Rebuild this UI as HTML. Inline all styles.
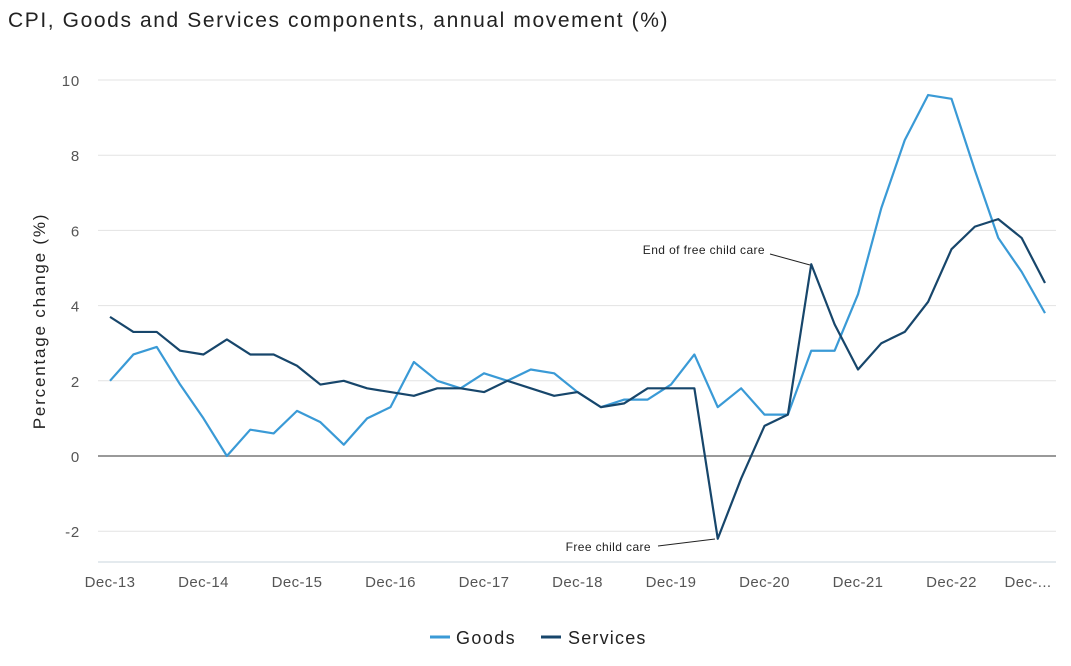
<!DOCTYPE html>
<html><head><meta charset="utf-8"><style>
body{margin:0;background:#fff;font-family:"Liberation Sans",sans-serif;}
svg text{font-family:"Liberation Sans",sans-serif;}
</style></head><body>
<svg width="1071" height="661">
<text x="8" y="27" font-size="21" letter-spacing="1.6" fill="#222">CPI, Goods and Services components, annual movement (%)</text>
<g id="grid"></g><g id="xt"></g><g id="lines"></g>
<text transform="translate(45,321) rotate(-90)" text-anchor="middle" font-size="17" letter-spacing="1.8" fill="#222">Percentage change (%)</text>
<text x="765" y="254" text-anchor="end" font-size="12" letter-spacing="0.4" fill="#222">End of free child care</text>
<line x1="770" y1="254" x2="810" y2="265" stroke="#222" stroke-width="1"/>
<text x="651" y="551" text-anchor="end" font-size="12" letter-spacing="0.4" fill="#222">Free child care</text>
<line x1="658" y1="546" x2="715" y2="539" stroke="#222" stroke-width="1"/>
<g>
<line x1="430" y1="637" x2="450" y2="637" stroke="#3a9ad6" stroke-width="3"/>
<text x="456" y="644" font-size="18" letter-spacing="1.4" fill="#222">Goods</text>
<line x1="541" y1="637" x2="561" y2="637" stroke="#17466b" stroke-width="3"/>
<text x="568" y="644" font-size="18" letter-spacing="1.2" fill="#222">Services</text>
</g>
</svg>
<script>
const categories=["Dec-13","Mar-14","Jun-14","Sep-14","Dec-14","Mar-15","Jun-15","Sep-15","Dec-15","Mar-16","Jun-16","Sep-16","Dec-16","Mar-17","Jun-17","Sep-17","Dec-17","Mar-18","Jun-18","Sep-18","Dec-18","Mar-19","Jun-19","Sep-19","Dec-19","Mar-20","Jun-20","Sep-20","Dec-20","Mar-21","Jun-21","Sep-21","Dec-21","Mar-22","Jun-22","Sep-22","Dec-22","Mar-23","Jun-23","Sep-23","Dec-23"];
const goods=[2.0,2.7,2.9,1.9,1.0,0.0,0.7,0.6,1.2,0.9,0.3,1.0,1.3,2.5,2.0,1.8,2.2,2.0,2.3,2.2,1.7,1.3,1.5,1.5,1.9,2.7,1.3,1.8,1.1,1.1,2.8,2.8,4.3,6.6,8.4,9.6,9.5,7.6,5.8,4.9,3.8];
const services=[3.7,3.3,3.3,2.8,2.7,3.1,2.7,2.7,2.4,1.9,2.0,1.8,1.7,1.6,1.8,1.8,1.7,2.0,1.8,1.6,1.7,1.3,1.4,1.8,1.8,1.8,-2.2,-0.6,0.8,1.1,5.1,3.5,2.3,3.0,3.3,4.1,5.5,6.1,6.3,5.8,4.6];
const yTicks=[-2,0,2,4,6,8,10];
const xLabels=["Dec-13","Dec-14","Dec-15","Dec-16","Dec-17","Dec-18","Dec-19","Dec-20","Dec-21","Dec-22","Dec-..."];
const NS="http://www.w3.org/2000/svg";
const x=i=>110+i*(1045-110)/(categories.length-1);
const y=v=>456-v*37.6;
function mk(t,a,p){const e=document.createElementNS(NS,t);for(const k in a)e.setAttribute(k,a[k]);p.appendChild(e);return e;}
const grid=document.getElementById('grid');
yTicks.forEach(t=>{
 const l=mk('line',{x1:98,x2:1056,y1:y(t),y2:y(t),stroke:t===0?'#999':'#e3e3e3','stroke-width':t===0?2:1},grid);
 
 
 const tx=mk('text',{x:80,y:y(t)+6,'text-anchor':'end','font-size':15,'letter-spacing':0.8,fill:'#555'},grid);tx.textContent=t;
 
 
});
const ax=mk('line',{x1:98,x2:1056,y1:562,y2:562,stroke:'#c8d4dc','stroke-width':1},grid);


const xt=document.getElementById('xt');
xLabels.forEach((s,k)=>{
 const px=k===10?1028:x(k*4);
 const tx=mk('text',{x:px,y:587,'text-anchor':'middle','font-size':15,'letter-spacing':0.4,fill:'#555'},xt);tx.textContent=s;
 
 
});
const lines=document.getElementById('lines');
[[goods,'#3a9ad6','goods-line'],[services,'#17466b','services-line']].forEach(([d,c,n])=>{
 const p=mk('polyline',{points:d.map((v,i)=>x(i)+','+y(v)).join(' '),fill:'none',stroke:c,'stroke-width':2.2,'stroke-linejoin':'round'},lines);
 
 
});
</script>
</body></html>
